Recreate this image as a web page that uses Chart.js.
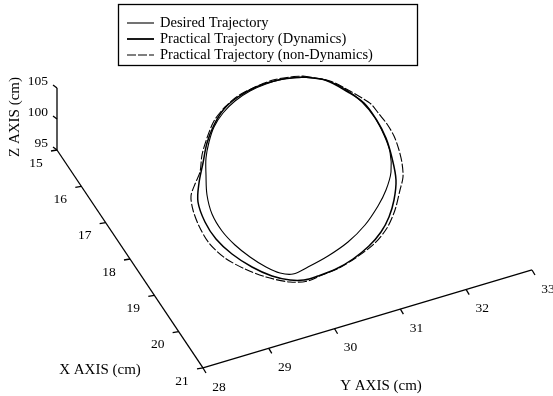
<!DOCTYPE html>
<html>
<head>
<meta charset="utf-8">
<script src="https://cdn.jsdelivr.net/npm/chart.js@4.4.1/dist/chart.umd.min.js"></script>
<style>
html,body{margin:0;padding:0;background:#fff;}
#wrap{width:553px;height:396px;position:relative;}
</style>
</head>
<body>
<div id="wrap"><canvas id="c"></canvas></div>
<script>
// ---- axis ticks (cm) ----
const xTicks = [15, 16, 17, 18, 19, 20, 21];
const yTicks = [28, 29, 30, 31, 32, 33];
const zTicks = [95, 100, 105];
const axisTitles = ['X AXIS (cm)', 'Y AXIS (cm)', 'Z AXIS (cm)'];
const seriesNames = ['Desired Trajectory', 'Practical Trajectory (Dynamics)', 'Practical Trajectory (non-Dynamics)'];

// ---- trajectories: Y (cm) and Z (cm) in the drawing plane ----
const desiredY = [30.55,30.77,30.97,31.14,31.27,31.36,31.42,31.43,31.38,31.30,31.17,31.00,30.80,30.60,30.45,30.32,30.18,30.02,29.87,29.74,29.64,29.59,29.58,29.58,29.61,29.66,29.75,29.87,30.02,30.18,30.36,30.55];
const desiredZ = [101.02,100.99,100.90,100.77,100.61,100.44,100.27,100.07,99.89,99.73,99.54,99.37,99.23,99.12,99.05,99.06,99.12,99.22,99.34,99.48,99.65,99.84,100.04,100.21,100.37,100.52,100.66,100.78,100.88,100.95,101.00,101.02];

const dynY = [30.55,30.77,31.00,31.16,31.28,31.38,31.44,31.48,31.46,31.41,31.33,31.21,31.05,30.88,30.70,30.56,30.42,30.24,30.04,29.84,29.68,29.57,29.50,29.51,29.55,29.59,29.66,29.76,29.90,30.08,30.30,30.55];
const dynZ = [101.02,100.99,100.87,100.76,100.60,100.41,100.21,99.99,99.79,99.62,99.47,99.33,99.20,99.10,99.03,98.99,98.99,99.03,99.12,99.25,99.40,99.57,99.77,99.96,100.16,100.36,100.54,100.70,100.82,100.92,100.99,101.02];

const nonDynY = [30.55,30.82,31.02,31.14,31.23,31.31,31.39,31.46,31.51,31.54,31.55,31.52,31.47,31.39,31.26,31.09,30.91,30.74,30.60,30.42,30.18,29.97,29.77,29.61,29.51,29.45,29.43,29.47,29.52,29.54,29.59,29.66,29.77,29.90,30.07,30.25,30.42,30.55];
const nonDynZ = [101.03,100.98,100.88,100.81,100.75,100.65,100.55,100.43,100.29,100.16,100.02,99.89,99.69,99.51,99.35,99.22,99.11,99.04,98.98,98.97,99.02,99.10,99.21,99.36,99.53,99.69,99.83,99.95,100.07,100.24,100.41,100.58,100.72,100.83,100.92,100.99,101.02,101.03];

// ---- view projection (layout) ----
const X0 = xTicks[0], Y0 = yTicks[0], Z0 = zTicks[0];
function proj(X, Y, Z) {
  return {
    x: 57 + (X - X0) * 24.33 + (Y - Y0) * 65.8,
    y: 150 + (X - X0) * 36.33 - (Y - Y0) * 19.6 - (Z - Z0) * 6.2
  };
}
function trajPt(Y, Z) {
  return { x: 298 + (Y - 30.5) * 100, y: 179 - (Z - 100) * 100 };
}
function traj(ys, zs) { return ys.map((y, i) => trajPt(y, zs[i])); }

const X1 = xTicks[xTicks.length - 1], Y1 = yTicks[yTicks.length - 1], Z1 = zTicks[zTicks.length - 1];
const FONT = '"Liberation Serif", "Times New Roman", serif';
const INK = '#000';

const axisPlugin = {
  id: 'axes3d',
  beforeDraw(chart) {
    const c = chart.ctx;
    c.save(); c.fillStyle = '#fff'; c.fillRect(0, 0, chart.width, chart.height); c.restore();
  },
  afterDatasetsDraw(chart) {
    const c = chart.ctx, sx = chart.scales.x, sy = chart.scales.y;
    const P = p => ({ x: sx.getPixelForValue(p.x), y: sy.getPixelForValue(p.y) });
    c.save();
    c.strokeStyle = INK; c.fillStyle = INK; c.lineWidth = 1.3;
    const seg = (a, b) => { const A = P(a), B = P(b); c.beginPath(); c.moveTo(A.x, A.y); c.lineTo(B.x, B.y); c.stroke(); };
    seg(proj(X0, Y0, Z0), proj(X1, Y0, Z0));      // X axis
    seg(proj(X1, Y0, Z0), proj(X1, Y1, Z0));      // Y axis
    seg(proj(X0, Y0, Z0), proj(X0, Y0, Z1));      // Z axis
    c.font = '13.5px ' + FONT;
    c.textAlign = 'center'; c.textBaseline = 'middle';
    xTicks.forEach(t => {
      const p = P(proj(t, Y0, Z0));
      c.beginPath(); c.moveTo(p.x, p.y); c.lineTo(p.x - 6, p.y + 1); c.stroke();
      c.fillText(String(t), p.x - 21, p.y + 13);
    });
    yTicks.forEach(t => {
      const p = P(proj(X1, t, Z0));
      c.beginPath(); c.moveTo(p.x, p.y); c.lineTo(p.x + 3, p.y + 5); c.stroke();
      c.fillText(String(t), p.x + 16, p.y + 19);
    });
    c.textAlign = 'right';
    zTicks.forEach(t => {
      const p = P(proj(X0, Y0, t));
      c.beginPath(); c.moveTo(p.x, p.y); c.lineTo(p.x - 4, p.y - 3); c.stroke();
      c.fillText(String(t), p.x - 9, p.y - 7);
    });
    // axis titles
    c.font = '15px ' + FONT;
    c.textAlign = 'center';
    c.fillText(axisTitles[0], 100, 370);
    c.fillText(axisTitles[1], 381, 386);
    c.save(); c.translate(15, 117); c.rotate(-Math.PI / 2); c.fillText(axisTitles[2], 0, 0); c.restore();
    // legend box
    c.lineWidth = 1.3;
    c.strokeRect(118.5, 4.5, 299, 61);
    c.font = '14.5px ' + FONT;
    c.textAlign = 'left';
    const widths = [1.1, 1.8, 1.1];
    const dashes = [[], [], [9, 2]];
    seriesNames.forEach((n, i) => {
      const yy = 23 + i * 16;
      c.save(); c.lineWidth = widths[i]; c.setLineDash(dashes[i]);
      c.beginPath(); c.moveTo(127, yy); c.lineTo(154, yy); c.stroke(); c.restore();
      c.fillText(n, 160, yy);
    });
    c.restore();
  }
};

new Chart(document.getElementById('c'), {
  type: 'scatter',
  data: {
    datasets: [
      { label: seriesNames[0], data: traj(desiredY, desiredZ), showLine: true, borderColor: INK, borderWidth: 1.1, pointRadius: 0, tension: 0.35 },
      { label: seriesNames[1], data: traj(dynY, dynZ), showLine: true, borderColor: INK, borderWidth: 1.5, pointRadius: 0, tension: 0.35 },
      { label: seriesNames[2], data: traj(nonDynY, nonDynZ), showLine: true, borderColor: INK, borderWidth: 1.1, borderDash: [9, 2], pointRadius: 0, tension: 0.3 }
    ]
  },
  options: {
    responsive: true, maintainAspectRatio: false, animation: false,
    layout: { padding: 0 },
    plugins: { legend: { display: false }, tooltip: { enabled: false } },
    scales: {
      x: { type: 'linear', min: 0, max: 553, display: false },
      y: { type: 'linear', min: 0, max: 396, reverse: true, display: false }
    }
  },
  plugins: [axisPlugin]
});
</script>
</body>
</html>
